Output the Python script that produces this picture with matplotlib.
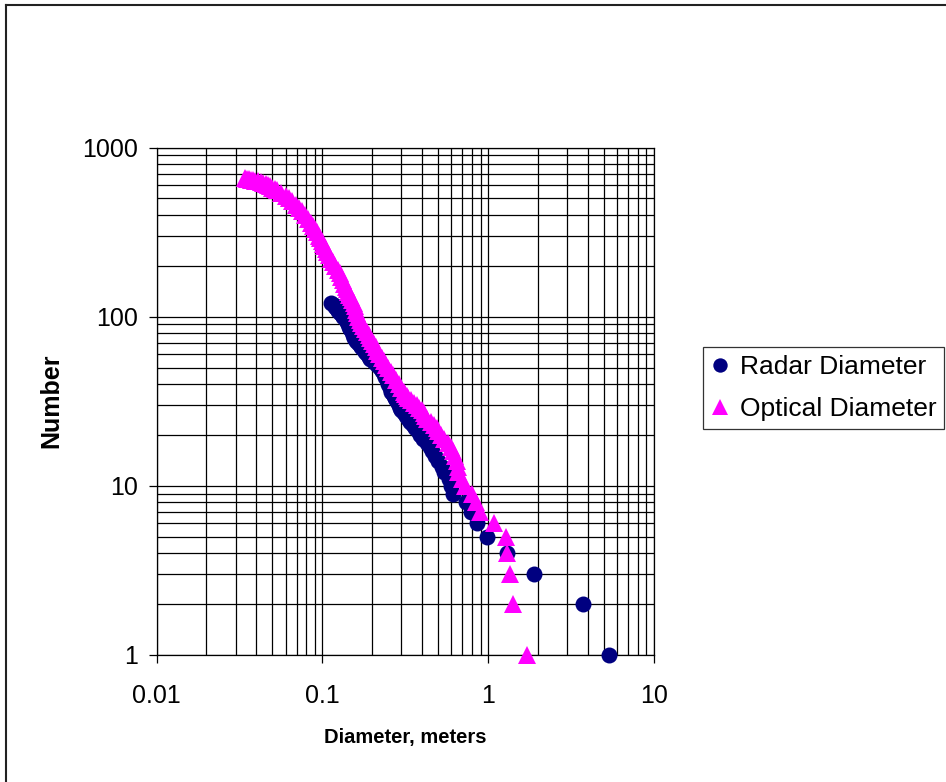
import numpy as np
import matplotlib
matplotlib.use("Agg")
import matplotlib.pyplot as plt
from matplotlib.lines import Line2D
from matplotlib.ticker import LogLocator, NullFormatter, FixedLocator, FixedFormatter

plt.rcParams['font.family'] = ['Liberation Sans', 'DejaVu Sans']

# cumulative number vs diameter
radar_n = [1, 2, 3, 4, 5, 6, 7, 8, 9, 10, 11, 12, 13, 14, 15, 16, 17, 18, 19, 20,
           21, 22, 23, 24, 25, 26, 27, 28, 29, 30, 31, 32, 33, 34, 35, 36, 38, 40,
           42, 44, 46, 48, 50, 52, 54, 56, 58, 60, 62, 64, 66, 68, 70, 72, 75, 78,
           81, 84, 87, 90, 93, 96, 99, 102, 105, 108, 111, 114, 117, 120]
radar_d = [5.35, 3.73, 1.89, 1.29, 0.98, 0.856, 0.79, 0.74, 0.615, 0.60, 0.58, 0.545,
           0.525, 0.50, 0.48, 0.46, 0.445, 0.425, 0.405, 0.39, 0.375, 0.36, 0.35,
           0.34, 0.33, 0.32, 0.31, 0.30, 0.295, 0.29, 0.285, 0.28, 0.275, 0.27,
           0.265, 0.26, 0.255, 0.25, 0.245, 0.24, 0.234, 0.228, 0.222, 0.215,
           0.205, 0.195, 0.19, 0.186, 0.181, 0.177, 0.172, 0.168, 0.164, 0.16,
           0.156, 0.153, 0.15, 0.147, 0.145, 0.143, 0.14, 0.138, 0.134, 0.131,
           0.128, 0.125, 0.122, 0.12, 0.117, 0.113]

optical_n = [1, 2, 3, 4, 5, 6, 7, 8, 9, 10, 11, 12, 13, 14, 15, 16, 17, 18, 19, 20,
             21, 22, 23, 24, 25, 26, 27, 28, 29, 30, 31, 32, 33, 34, 35, 36, 38, 40,
             42, 45, 47, 50, 52, 55, 57, 60, 63, 66, 69, 72, 75, 78, 81, 85, 88, 92,
             96, 100, 105, 110, 115, 120, 125, 130, 135, 140, 145, 150, 157, 165,
             172, 180, 190, 200, 210, 220, 230, 240, 250, 260, 270, 280, 290, 300,
             315, 330, 345, 360, 380, 400, 420, 440, 460, 480, 500, 520, 540, 560,
             570, 580, 590, 600, 608, 615, 622, 630, 635, 640, 645, 650, 653, 656]
optical_d = [1.72, 1.41, 1.35, 1.29, 1.275, 1.09, 0.89, 0.85, 0.80, 0.72, 0.70, 0.66,
             0.655, 0.645, 0.63, 0.615, 0.60, 0.57, 0.54, 0.52, 0.50, 0.49, 0.47,
             0.45, 0.43, 0.415, 0.41, 0.40, 0.385, 0.37, 0.355, 0.342, 0.33, 0.322,
             0.316, 0.31, 0.30, 0.29, 0.278, 0.265, 0.258, 0.25, 0.243, 0.235,
             0.228, 0.22, 0.215, 0.21, 0.205, 0.20, 0.195, 0.19, 0.186, 0.182,
             0.177, 0.172, 0.168, 0.165, 0.162, 0.16, 0.157, 0.155, 0.151, 0.148,
             0.145, 0.142, 0.14, 0.138, 0.135, 0.133, 0.13, 0.128, 0.124, 0.12,
             0.116, 0.113, 0.11, 0.107, 0.105, 0.103, 0.101, 0.099, 0.097, 0.095,
             0.0925, 0.09, 0.0875, 0.085, 0.082, 0.079, 0.0755, 0.072, 0.069,
             0.066, 0.063, 0.06, 0.0565, 0.053, 0.0515, 0.05, 0.0485, 0.047,
             0.0455, 0.044, 0.0425, 0.041, 0.0395, 0.038, 0.037, 0.036, 0.035, 0.034]

x_ticks = [0.01, 0.1, 1, 10]
x_labels = ['0.01', '0.1', '1', '10']
y_ticks = [1, 10, 100, 1000]
y_labels = ['1', '10', '100', '1000']

W, H = 946, 782
fig = plt.figure(figsize=(W / 100, H / 100), dpi=100)
ax = fig.add_axes([156.5 / W, 1 - 655 / H, (654 - 156.5) / W, (655 - 147.5) / H])

ax.set_xscale('log')
ax.set_yscale('log')
ax.set_xlim(0.01, 10)
ax.set_ylim(1, 1000)

ax.plot(radar_d, radar_n, 'o', color='#000080', markersize=11.5, markeredgewidth=0,
        label='Radar Diameter', zorder=3, clip_on=False)
ax.plot(optical_d, optical_n, '^', color='#ff00ff', markersize=13, markeredgewidth=0,
        label='Optical Diameter', zorder=4, clip_on=False)

ax.xaxis.set_major_locator(FixedLocator(x_ticks))
ax.xaxis.set_major_formatter(FixedFormatter(x_labels))
ax.yaxis.set_major_locator(FixedLocator(y_ticks))
ax.yaxis.set_major_formatter(FixedFormatter(y_labels))
ax.xaxis.set_minor_locator(LogLocator(base=10, subs=np.arange(2, 10)))
ax.yaxis.set_minor_locator(LogLocator(base=10, subs=np.arange(2, 10)))
ax.xaxis.set_minor_formatter(NullFormatter())
ax.yaxis.set_minor_formatter(NullFormatter())

ax.grid(True, which='both', color='black', linewidth=0.9)
ax.set_axisbelow(True)
ax.tick_params(which='major', direction='out', length=6, width=0.9, labelsize=18)
ax.tick_params(axis='x', which='major', pad=15)
ax.tick_params(axis='y', which='major', pad=7)
ax.tick_params(which='minor', length=0)
for s in ax.spines.values():
    s.set_color('black')
    s.set_linewidth(0.9)

ax.set_xlabel('Diameter, meters', fontsize=14.5, fontweight='bold', labelpad=14)
ax.set_ylabel('Number', fontsize=18, fontweight='bold', labelpad=14)

leg = fig.legend(loc='upper left', bbox_to_anchor=(703 / W, 1 - 347 / H),
                 fontsize=19, frameon=True, fancybox=False, edgecolor='black',
                 handlelength=0.7, handletextpad=0.4, borderpad=0.3,
                 labelspacing=0.68, borderaxespad=0, markerscale=0.9)
leg.get_frame().set_linewidth(0.9)

# outer chart border (only top and left edges are inside the picture)
fig.add_artist(Line2D([6 / W, 6 / W], [0, 1 - 5 / H], color='#222222', linewidth=1.5))
fig.add_artist(Line2D([6 / W, 1], [1 - 5 / H, 1 - 5 / H], color='#222222', linewidth=1.5))

fig.savefig('out.png', dpi=100)
